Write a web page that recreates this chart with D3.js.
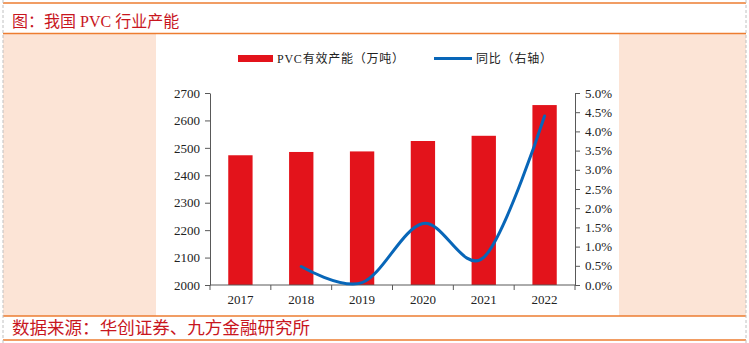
<!DOCTYPE html>
<html>
<head>
<meta charset="utf-8">
<script src="https://cdn.jsdelivr.net/npm/d3@7"></script>
<style>
  body { margin: 0; background: #fff; }
  text { font-family: "Liberation Serif", "Noto Sans CJK SC", serif; }
  .cjk { font-family: "Liberation Serif", "Noto Sans CJK SC", serif; }
</style>
</head>
<body>
<script>
var w = 749;
var h = 343;

var years = ["2017", "2018", "2019", "2020", "2021", "2022"];
// effective capacity, 10k tonnes
var capacity = [2473, 2485, 2487, 2525, 2544, 2656];
// year-on-year change, right axis (2017 has no value)
var yoy = [null, 0.0048, 0.0006, 0.016, 0.0072, 0.044];
var leftTicks = [2000, 2100, 2200, 2300, 2400, 2500, 2600, 2700];
var rightTicks = [0, 0.005, 0.01, 0.015, 0.02, 0.025, 0.03, 0.035, 0.04, 0.045, 0.05];

var svg = d3.select("body").append("svg")
  .attr("width", w)
  .attr("height", h);

var orange = "#ED7D31";
var peach = "#FCE4D6";
var red = "#E3131B";
var blue = "#0866B8";
var axisColor = "#595959";

// frame: peach side panels, orange rules, dashed borders
svg.append("rect").attr("x", 3).attr("y", 34).attr("width", 153).attr("height", 282).attr("fill", peach);
svg.append("rect").attr("x", 619).attr("y", 34).attr("width", 127).attr("height", 282).attr("fill", peach);

[3, 33.5, 316, 340].forEach(function (y) {
  svg.append("line")
    .attr("x1", 3).attr("x2", 746)
    .attr("y1", y).attr("y2", y)
    .attr("stroke", orange).attr("stroke-width", 1.5);
});

[3, 746].forEach(function (x) {
  svg.append("line")
    .attr("x1", x).attr("x2", x)
    .attr("y1", 0).attr("y2", h)
    .attr("stroke", "#c0c0c0").attr("stroke-dasharray", "3,2");
});

svg.append("text")
  .attr("x", 12).attr("y", 27)
  .attr("font-size", 16)
  .attr("fill", "#C8161E")
  .text("图：我国 PVC 行业产能");

svg.append("text")
  .attr("x", 12).attr("y", 334)
  .attr("font-size", 17)
  .attr("fill", "#C8161E")
  .attr("textLength", 298)
  .attr("lengthAdjust", "spacingAndGlyphs")
  .text("数据来源：华创证券、九方金融研究所");

// scales
var x = d3.scaleBand().domain(years).range([210, 575]).padding(0);
var yL = d3.scaleLinear().domain([2000, 2700]).range([285, 93]);
var yR = d3.scaleLinear().domain([0, 0.05]).range([285, 93]);
var barW = x.bandwidth() * 0.4;

var chart = svg.append("g");

// bars
chart.selectAll("rect.bar")
  .data(capacity)
  .enter().append("rect")
  .attr("class", "bar")
  .attr("x", (d, i) => x(years[i]) + (x.bandwidth() - barW) / 2)
  .attr("y", d => yL(d))
  .attr("width", barW)
  .attr("height", d => yL(2000) - yL(d))
  .attr("fill", red);

// axes
function styleAxis(g) {
  g.selectAll("path, line").attr("stroke", axisColor);
  g.selectAll("text")
    .attr("font-family", "Liberation Serif, serif")
    .attr("font-size", 13)
    .attr("fill", "#222");
}

chart.append("g")
  .attr("transform", "translate(210,0)")
  .call(d3.axisLeft(yL).tickValues(leftTicks).tickSizeInner(5).tickSizeOuter(0).tickPadding(5).tickFormat(d3.format("d")))
  .call(styleAxis);

chart.append("g")
  .attr("transform", "translate(575,0)")
  .call(d3.axisRight(yR).tickValues(rightTicks).tickSizeInner(5).tickSizeOuter(0).tickPadding(5).tickFormat(d3.format(".1%")))
  .call(styleAxis);

// x axis: ticks fall on category boundaries
var xAxis = chart.append("g").attr("transform", "translate(0,285)");
xAxis.append("line")
  .attr("x1", 210).attr("x2", 575)
  .attr("stroke", axisColor);
xAxis.selectAll("line.tick")
  .data(years.concat(["end"]))
  .enter().append("line")
  .attr("class", "tick")
  .attr("x1", (d, i) => 210 + i * x.step())
  .attr("x2", (d, i) => 210 + i * x.step())
  .attr("y1", 0).attr("y2", 5)
  .attr("stroke", axisColor);
xAxis.selectAll("text")
  .data(years)
  .enter().append("text")
  .attr("x", d => x(d) + x.bandwidth() / 2)
  .attr("y", 19)
  .attr("text-anchor", "middle")
  .attr("font-size", 13)
  .attr("fill", "#222")
  .text(d => d);

// yoy line
var pts = years.map((d, i) => [x(d) + x.bandwidth() / 2, yoy[i]]).filter(p => p[1] !== null);
chart.append("path")
  .datum(pts)
  .attr("fill", "none")
  .attr("stroke", blue)
  .attr("stroke-width", 3)
  .attr("stroke-linecap", "round")
  .attr("d", d3.line().x(p => p[0]).y(p => yR(p[1])).curve(d3.curveCatmullRom.alpha(0)));

// legend
var legend = svg.append("g");
legend.append("rect")
  .attr("x", 238).attr("y", 55).attr("width", 35).attr("height", 7)
  .attr("fill", red);
legend.append("text")
  .attr("x", 277).attr("y", 63)
  .attr("font-size", 12)
  .attr("fill", "#222")
  .attr("textLength", 127)
  .attr("lengthAdjust", "spacing")
  .text("PVC有效产能（万吨）");
legend.append("line")
  .attr("x1", 434).attr("x2", 472)
  .attr("y1", 58.5).attr("y2", 58.5)
  .attr("stroke", blue).attr("stroke-width", 3);
legend.append("text")
  .attr("x", 476).attr("y", 63)
  .attr("font-size", 12)
  .attr("fill", "#222")
  .attr("textLength", 76)
  .attr("lengthAdjust", "spacing")
  .text("同比（右轴）");
</script>
</body>
</html>
